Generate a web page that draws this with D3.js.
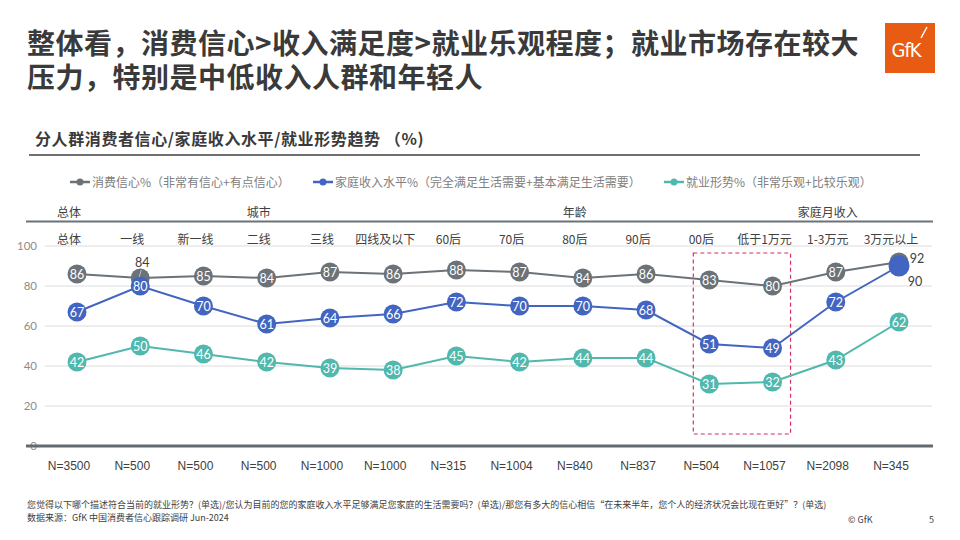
<!DOCTYPE html>
<html><head><meta charset="utf-8">
<script src="https://cdn.jsdelivr.net/npm/d3@7"></script>
<style>
body{margin:0;background:#fff;}
svg{display:block;font-family:"Noto Sans CJK SC","Noto Sans",sans-serif;}
</style></head>
<body><svg id="c" width="960" height="540"></svg>
<script>
const categories = ["总体","一线","新一线","二线","三线","四线及以下","60后","70后","80后","90后","00后","低于1万元","1-3万元","3万元以上"];
const sampleSizes = ["N=3500","N=500","N=500","N=500","N=1000","N=1000","N=315","N=1004","N=840","N=837","N=504","N=1057","N=2098","N=345"];
const groups = [{name:"总体",at:"总体"},{name:"城市",at:"二线"},{name:"年龄",at:"80后"},{name:"家庭月收入",at:"1-3万元"}];
const confidence = [86,84,85,84,87,86,88,87,84,86,83,80,87,92];
const income = [67,80,70,61,64,66,72,70,70,68,51,49,72,90];
const employment = [42,50,46,42,39,38,45,42,44,44,31,32,43,62];
const seriesNames = ["消费信心%（非常有信心+有点信心）","家庭收入水平%（完全满足生活需要+基本满足生活需要）","就业形势%（非常乐观+比较乐观）"];
const yTicks = [0,20,40,60,80,100];
const highlight = ["00后","低于1万元"];

const svg = d3.select("#c");
const colors = ["#6b7379","#4265c1","#50b8ad"];

// Title
const title = svg.append("text").attr("x",27).attr("font-size",28).attr("font-weight","bold").attr("fill","#3a3a3a").attr("letter-spacing",0.5);
title.append("tspan").attr("x",27).attr("y",54).text("整体看，消费信心>收入满足度>就业乐观程度；就业市场存在较大");
title.append("tspan").attr("x",27).attr("y",88).text("压力，特别是中低收入人群和年轻人");

// Logo
svg.append("rect").attr("x",885).attr("y",23).attr("width",50).attr("height",50).attr("fill","#e85b12");
svg.append("text").attr("x",906).attr("y",57).attr("text-anchor","middle").attr("font-family","'DejaVu Sans Condensed','Liberation Sans',sans-serif")
  .attr("font-size",20).attr("fill","#fff").attr("letter-spacing",-1).text("GfK");
svg.append("line").attr("x1",921).attr("y1",38).attr("x2",927).attr("y2",27).attr("stroke","#fff").attr("stroke-width",1.5);

// Subtitle
svg.append("text").attr("x",35).attr("y",145).attr("font-size",16).attr("font-weight","bold").attr("fill","#3a3a3a").attr("letter-spacing",0.6)
  .text("分人群消费者信心/家庭收入水平/就业形势趋势 （%)");
svg.append("line").attr("x1",29).attr("x2",920).attr("y1",155).attr("y2",155).attr("stroke","#404040").attr("stroke-width",1.5);

// Legend
const legendX = [70,313,664];
seriesNames.forEach((n,i)=>{
  const g = svg.append("g").attr("transform",`translate(${legendX[i]},182)`);
  g.append("line").attr("x1",0).attr("x2",20).attr("y1",0).attr("y2",0).attr("stroke",colors[i]).attr("stroke-width",2.5);
  g.append("circle").attr("cx",10).attr("cy",0).attr("r",3.5).attr("fill",colors[i]);
  g.append("text").attr("x",22).attr("y",4.5).attr("font-size",12).attr("fill","#808080").text(n);
});

// Scales
const x = d3.scalePoint().domain(categories).range([77,899]);
const y = d3.scaleLinear().domain([0,100]).range([446,246]);
const labelOff = -8;

// group headers
groups.forEach(g=>{
  svg.append("text").attr("x",x(g.at)+labelOff).attr("y",217).attr("text-anchor","middle").attr("font-size",12).attr("fill","#404040").text(g.name);
});
svg.append("line").attr("x1",26).attr("x2",933).attr("y1",221.5).attr("y2",221.5).attr("stroke","#6b7379").attr("stroke-width",2);

// category labels
categories.forEach(c=>{
  svg.append("text").attr("x",x(c)+labelOff).attr("y",244).attr("text-anchor","middle").attr("font-size",12).attr("fill","#404040").text(c);
});

// gridlines & y axis
const yAxis = d3.axisLeft(y).tickValues(yTicks).tickSize(0).tickPadding(0);
const ya = svg.append("g").attr("transform","translate(37,0)").call(yAxis);
ya.select(".domain").remove();
ya.selectAll("text").attr("font-family","Lato,'Noto Sans',sans-serif").attr("font-size",11.5).attr("fill","#8c8c8c");
yTicks.filter(t=>t>0).forEach(t=>{
  svg.append("line").attr("x1",45).attr("x2",932).attr("y1",y(t)).attr("y2",y(t)).attr("stroke","#dcdcdc").attr("stroke-width",1);
});
svg.append("line").attr("x1",26).attr("x2",933).attr("y1",y(0)).attr("y2",y(0)).attr("stroke","#636b71").attr("stroke-width",3);

// highlight box
const hx0 = x(highlight[0]) - 16, hx1 = x(highlight[1]) + 18;
svg.append("rect").attr("x",hx0).attr("y",253).attr("width",hx1-hx0).attr("height",181)
  .attr("fill","none").attr("stroke","#d2335f").attr("stroke-width",1.2).attr("stroke-dasharray","4,3");

// series
const series = [confidence,income,employment];
const line = d3.line().x((d,i)=>x(categories[i])).y(d=>y(d));
series.forEach((s,si)=>{
  svg.append("path").datum(s).attr("d",line).attr("fill","none").attr("stroke",colors[si]).attr("stroke-width",2);
});
series.forEach((s,si)=>{
  const g = svg.append("g");
  s.forEach((v,i)=>{
    const cx = x(categories[i]), cy = y(v);
    g.append("circle").attr("cx",cx).attr("cy",cy).attr("r",si===1&&i===13?10.5:9.5).attr("fill",colors[si]);
    const special = (si===0&&(i===1||i===13))||(si===1&&i===13);
    if(!special){
      g.append("text").attr("x",cx).attr("y",cy+4.5).attr("text-anchor","middle")
        .attr("font-family","Lato,'Noto Sans',sans-serif").attr("font-size",12.5).attr("fill","#fff").text(v);
    }
  });
});
// outside labels
const ol = (tx,ty,t)=>svg.append("text").attr("x",tx).attr("y",ty).attr("font-family","Lato,'Noto Sans',sans-serif")
  .attr("font-size",12.5).attr("fill","#404040").attr("text-anchor","middle").text(t);
ol(x(categories[1])+2, y(confidence[1])-11, confidence[1]);
svg.append("line").attr("x1",x(categories[1])+1).attr("y1",y(confidence[1])-8).attr("x2",x(categories[1])-1).attr("y2",y(confidence[1])-1).attr("stroke","#c0c0c0").attr("stroke-width",1);
ol(x(categories[13])+18, y(confidence[13])+1, confidence[13]);
ol(x(categories[13])+16, y(income[13])+20, income[13]);

// N labels
sampleSizes.forEach((n,i)=>{
  svg.append("text").attr("x",x(categories[i])+labelOff).attr("y",470).attr("text-anchor","middle")
    .attr("font-family","'Liberation Sans',Arial,sans-serif").attr("font-size",12).attr("fill","#404040").text(n);
});

// footer
const f = svg.append("text").attr("font-size",9).attr("fill","#404040");
f.append("tspan").attr("x",27).attr("y",508).text("您觉得以下哪个描述符合当前的就业形势？(单选)/您认为目前的您的家庭收入水平足够满足您家庭的生活需要吗？(单选)/那您有多大的信心相信“在未来半年，您个人的经济状况会比现在更好”？(单选)");
f.append("tspan").attr("x",27).attr("y",521).text("数据来源：GfK 中国消费者信心跟踪调研 Jun-2024");
svg.append("text").attr("x",848).attr("y",523).attr("font-size",9).attr("fill","#404040").text("© GfK");
svg.append("text").attr("x",929).attr("y",523).attr("font-size",9).attr("fill","#404040").text("5");
</script></body></html>
